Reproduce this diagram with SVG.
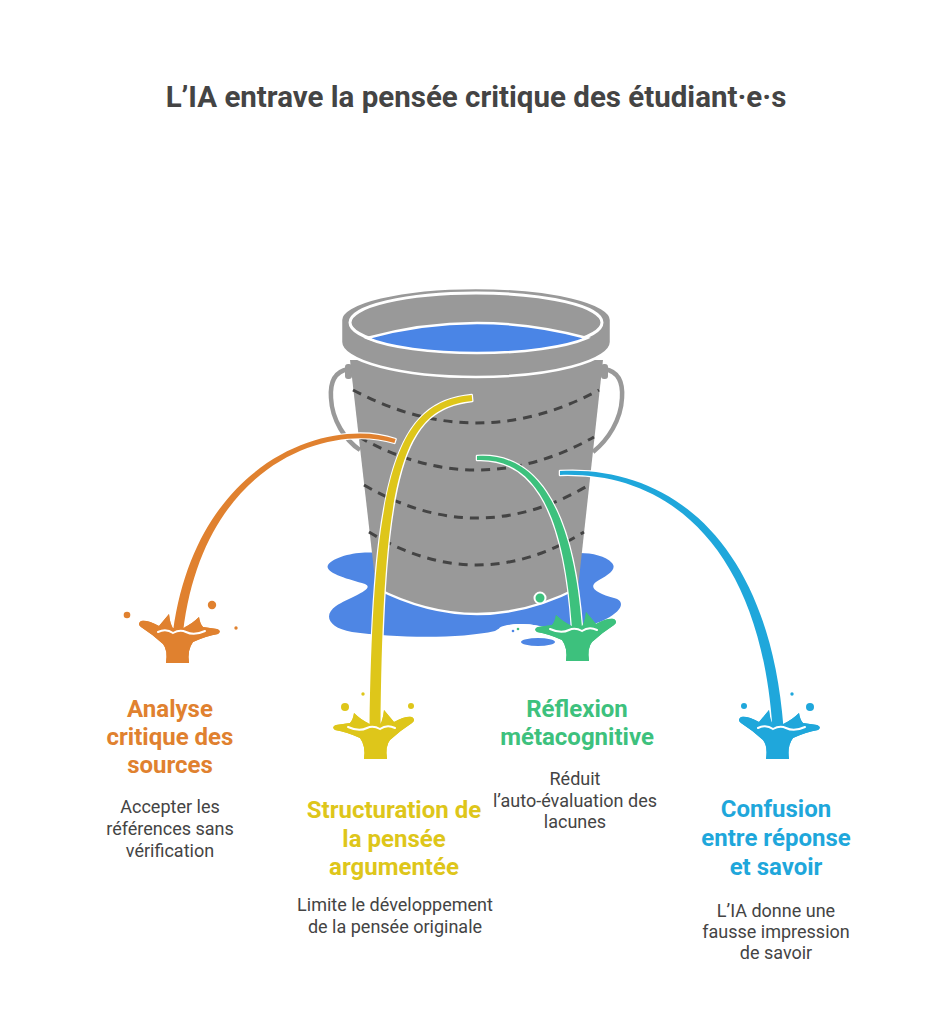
<svg xmlns="http://www.w3.org/2000/svg" width="952" height="1024" viewBox="0 0 952 1024">
<style>
.title{font-family:Roboto,"Liberation Sans",sans-serif;font-weight:700;font-size:29.5px;fill:#444444;text-anchor:middle}
.head{font-family:Roboto,"Liberation Sans",sans-serif;font-weight:700;font-size:24px;text-anchor:middle}
.desc{font-family:Roboto,"Liberation Sans",sans-serif;font-weight:400;font-size:18px;fill:#444444;text-anchor:middle}
.gray{fill:#999999}
.dash{fill:none;stroke:#444444;stroke-width:3;stroke-dasharray:9 7}
.stream{stroke:#ffffff;stroke-width:2.5;stroke-linejoin:round;paint-order:stroke}
.orange{fill:#E0812F}
.yellow{fill:#DEC61A}
.green{fill:#3DC17D}
.blue{fill:#1FA7DB}
.wl{fill:none;stroke:#ffffff;stroke-width:2;stroke-linecap:round}
</style>
<defs>
<path id="splash" d="M-37,-11 Q-30,-12 -19,-6 L-9,-18 Q-8,-8 -5,-4 L5,-4 Q14,-8 21,-15 Q22,-8 25,-5 Q32,-4 39,-3 Q44,-1 40,2 Q28,4 15,10 Q9,18 11,31 L-12,31 Q-10,18 -15,12 Q-26,2 -37,-5 Q-41,-8 -37,-11 Z"/>
<path id="rimline" d="M-20,0 Q-12,-4 -5,1 Q2,-3 8,0 Q16,4 27,-1"/>
</defs>
<rect width="952" height="1024" fill="#ffffff"/>

<text class="title" x="476" y="107">L’IA entrave la pensée critique des étudiant·e·s</text>

<g id="bucket">
  <path d="M375,553 C360,551 334,556 328,565 C324,573 348,579 365,584 C376,589 350,597 336,606 C323,615 328,628 352,632 C395,638 460,639 495,631 C505,624 520,622 540,626 C560,630 590,628 606,619 C622,611 626,601 614,598 C598,594 588,588 596,582 C606,576 618,570 612,563 C606,556 592,553 580,553 Z" fill="#4E86E4"/>
  <ellipse cx="521" cy="629" rx="22" ry="5" fill="#ffffff"/>
  <ellipse cx="538" cy="642" rx="17" ry="4" fill="#4E86E4"/>
  <circle cx="513" cy="631" r="1.3" fill="#4E86E4"/>
  <circle cx="518" cy="629" r="1.3" fill="#3DC17D"/>
  <path d="M348,369 C333,372 330,384 331,398 C332,420 345,440 360,450" fill="none" stroke="#999999" stroke-width="4.5"/>
  <path d="M605,369 C620,372 623,384 622,398 C621,420 608,440 593,452" fill="none" stroke="#999999" stroke-width="4.5"/>
  <rect x="345" y="364" width="7" height="15" rx="3" class="gray"/>
  <rect x="601" y="364" width="7" height="15" rx="3" class="gray"/>
  <path d="M350,360 L376,588 Q477,640 578,588 L603,360 Z" class="gray"/>
  <path d="M376,588 Q477,640 578,588" fill="none" stroke="#ffffff" stroke-width="2.5"/>
  <path class="dash" d="M353,390 Q477,456 599,390"/>
  <path class="dash" d="M359,437 Q477,503 594,437"/>
  <path class="dash" d="M364,485 Q477,551 589,485"/>
  <path class="dash" d="M369,532 Q477,598 584,532"/>
  <path d="M341,320 A135,32 0 0 1 611,320 L611,342 A135,35 0 0 1 341,342 Z" class="gray" stroke="#ffffff" stroke-width="2.5"/>
  <ellipse cx="476" cy="322.5" rx="126" ry="29.5" fill="none" stroke="#ffffff" stroke-width="3"/>
  <path d="M367,338 Q477,308 587,338 A124,28 0 0 1 367,338 Z" fill="#4A85E6" stroke="#ffffff" stroke-width="2.5"/>
</g>

<g id="node-analyse">
  <use href="#splash" transform="translate(178,632)" class="orange"/>
  <circle cx="127" cy="615" r="3.3" class="orange"/>
  <circle cx="212" cy="605" r="4.2" class="orange"/>
  <circle cx="236" cy="628" r="1.7" class="orange"/>
  <text class="head orange" x="170" y="717">Analyse</text>
  <text class="head orange" x="170" y="745">critique des</text>
  <text class="head orange" x="170" y="773">sources</text>
  <text class="desc" x="170" y="813">Accepter les</text>
  <text class="desc" x="170" y="835">références sans</text>
  <text class="desc" x="170" y="857">vérification</text>
</g>

<g id="node-structuration">
  <use href="#splash" transform="translate(375,728) scale(-1,1)" class="yellow"/>
  <circle cx="345" cy="707" r="4" class="yellow"/>
  <circle cx="363" cy="694" r="1.7" class="yellow"/>
  <circle cx="411" cy="706" r="3" class="yellow"/>
  <text class="head yellow" x="394" y="818">Structuration de</text>
  <text class="head yellow" x="394" y="847">la pensée</text>
  <text class="head yellow" x="394" y="875">argumentée</text>
  <text class="desc" x="395" y="911">Limite le développement</text>
  <text class="desc" x="395" y="933">de la pensée originale</text>
</g>

<g id="node-reflexion">
  <use href="#splash" transform="translate(577,630) scale(-1,1)" class="green"/>
  <circle cx="540" cy="598" r="5.5" class="green" stroke="#ffffff" stroke-width="2"/>
  <text class="head green" x="577" y="717">Réflexion</text>
  <text class="head green" x="577" y="745">métacognitive</text>
  <text class="desc" x="575" y="785">Réduit</text>
  <text class="desc" x="575" y="807">l’auto-évaluation des</text>
  <text class="desc" x="575" y="828">lacunes</text>
</g>

<g id="node-confusion">
  <use href="#splash" transform="translate(778,728)" class="blue"/>
  <circle cx="744" cy="706" r="3" class="blue"/>
  <circle cx="792" cy="694" r="1.7" class="blue"/>
  <circle cx="810" cy="707" r="4" class="blue"/>
  <text class="head blue" x="776" y="817">Confusion</text>
  <text class="head blue" x="776" y="846">entre réponse</text>
  <text class="head blue" x="776" y="875">et savoir</text>
  <text class="desc" x="776" y="917">L’IA donne une</text>
  <text class="desc" x="776" y="938">fausse impression</text>
  <text class="desc" x="776" y="959">de savoir</text>
</g>

<g id="connectors">
  <path class="stream orange" d="M395.6,439.1 C331,417 196.8,457.7 173,631.4 L183,632.6 C203.2,462.3 329,423 394.4,442.9 Z"/>
  <path class="stream yellow" d="M471.7,395 C397.6,401.8 373,469.6 369.5,728 L380.5,728 C383,470.4 402.4,408.2 472.3,401 Z"/>
  <path class="stream green" d="M477,456 C531.3,452.3 572.4,498.8 582,627.6 L572,628.4 C563.6,501.2 528.7,457.7 477,460 Z"/>
  <path class="stream blue" d="M560,471 C671.2,464.7 769.6,543.1 783.5,727.6 L772.5,728.4 C760.4,546.9 668.8,471.3 560,475 Z"/>
</g>

<g id="splash-fronts">
  <use href="#splash" transform="translate(178,632)" class="orange"/>
  <use href="#rimline" transform="translate(178,632)" class="wl"/>
  <use href="#splash" transform="translate(375,728) scale(-1,1)" class="yellow"/>
  <use href="#rimline" transform="translate(375,728) scale(-1,1)" class="wl"/>
  <use href="#splash" transform="translate(577,630) scale(-1,1)" class="green"/>
  <use href="#rimline" transform="translate(577,630) scale(-1,1)" class="wl"/>
  <use href="#splash" transform="translate(778,728)" class="blue"/>
  <use href="#rimline" transform="translate(778,728)" class="wl"/>
</g>
</svg>
